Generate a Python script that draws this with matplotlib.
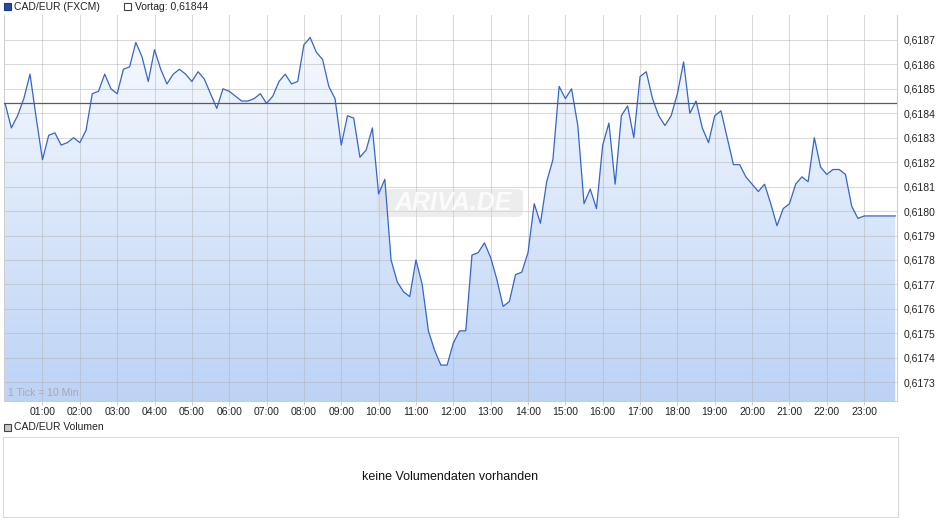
import numpy as np
import matplotlib
matplotlib.use('Agg')
import matplotlib.pyplot as plt
import matplotlib.patches as mpatches
from matplotlib.ticker import FuncFormatter

plt.rcParams['font.family'] = ['Liberation Sans', 'DejaVu Sans']

# ─── DATEN ─────────────────────────────────────────────
title = 'CAD/EUR (FXCM)'
vortag = 0.61844
# Kurs alle 10 Minuten ab 00:00
prices = [
    0.61844, 0.61834, 0.61839, 0.61846, 0.61856, 0.61838, 0.61821, 0.61831,
    0.61832, 0.61827, 0.61828, 0.61830, 0.61828, 0.61833, 0.61848, 0.61849,
    0.61856, 0.61850, 0.61848, 0.61858, 0.61859, 0.61869, 0.61863, 0.61853,
    0.61866, 0.61858, 0.61852, 0.61856, 0.61858, 0.61856, 0.61853, 0.61857,
    0.61854, 0.61848, 0.61842, 0.61850, 0.61849, 0.61847, 0.61845, 0.61845,
    0.61846, 0.61848, 0.61844, 0.61847, 0.61853, 0.61856, 0.61852, 0.61853,
    0.61868, 0.61871, 0.61865, 0.61862, 0.61851, 0.61846, 0.61827, 0.61839,
    0.61838, 0.61822, 0.61825, 0.61834, 0.61807, 0.61813, 0.61780, 0.61771,
    0.61767, 0.61765, 0.61780, 0.61770, 0.61751, 0.61743, 0.61737, 0.61737,
    0.61746, 0.61751, 0.61751, 0.61782, 0.61783, 0.61787, 0.61781, 0.61772,
    0.61761, 0.61763, 0.61774, 0.61775, 0.61783, 0.61803, 0.61795, 0.61812,
    0.61821, 0.61851, 0.61846, 0.61850, 0.61835, 0.61803, 0.61809, 0.61801,
    0.61827, 0.61836, 0.61811, 0.61839, 0.61843, 0.61830, 0.61855, 0.61857,
    0.61846, 0.61839, 0.61835, 0.61839, 0.61848, 0.61861, 0.61840, 0.61845,
    0.61834, 0.61828, 0.61839, 0.61841, 0.61830, 0.61819, 0.61819, 0.61814,
    0.61811, 0.61808, 0.61811, 0.61803, 0.61794, 0.61801, 0.61803, 0.61811,
    0.61814, 0.61812, 0.61830, 0.61818, 0.61815, 0.61817, 0.61817, 0.61815,
    0.61802, 0.61797, 0.61798, 0.61798, 0.61798, 0.61798, 0.61798, 0.61798,
]
hours = np.arange(len(prices)) * 10 / 60.0   # 1 Tick = 10 Min.
hour_ticks = list(range(1, 24))
price_ticks = [0.6173 + k * 0.0001 for k in range(15)]

# ─── LAYOUT (Pixel) ────────────────────────────────────
W, H = 940, 526
fig = plt.figure(figsize=(W / 100, H / 100), dpi=100)

def box(x0, y0, x1, y1):
    return [x0 / W, 1 - y1 / H, (x1 - x0) / W, (y1 - y0) / H]

ax = fig.add_axes(box(4, 15, 897, 401))
ymin, ymax = 0.617223, 0.618802
xmin, xmax = -0.03, 23.88
ax.set_xlim(xmin, xmax)
ax.set_ylim(ymin, ymax)

# Gradient-Füllung unter der Kurve
grad = np.linspace(0, 1, 256).reshape(-1, 1)
top_c = np.array([250, 252, 255]) / 255
bot_c = np.array([188, 211, 246]) / 255
img = (top_c + (bot_c - top_c) * grad).reshape(256, 1, 3)
im = ax.imshow(img, extent=[xmin, xmax, ymin, ymax], aspect='auto',
               origin='upper', zorder=1)
poly = ax.fill_between(hours, prices, ymin, color='none', lw=0)
im.set_clip_path(poly.get_paths()[0], transform=ax.transData)

# Gitter
ax.set_xticks(hour_ticks)
ax.set_yticks(price_ticks)
ax.grid(True, color='#b4b4b4', lw=0.75, alpha=0.5)
for ln in ax.get_xgridlines() + ax.get_ygridlines():
    ln.set_zorder(2)

# Wasserzeichen
wm = mpatches.FancyBboxPatch((377 / W, 1 - 217 / H), 146 / W, 28 / H,
                             boxstyle='round,pad=0,rounding_size=0.008',
                             transform=fig.transFigure, facecolor='#d4d4d4',
                             edgecolor='none', alpha=0.4, zorder=3)
ax.add_artist(wm)
wm.set_clip_on(False)
ax.text(453 / W, 1 - 203 / H, 'ARIVA.DE', transform=fig.transFigure,
        ha='center', va='center', fontsize=18, fontweight='bold',
        fontstyle='italic', color='white', alpha=0.8, zorder=3)

# Kurs & Vortag
ax.plot(hours, prices, color='#3366cc', lw=0.9, zorder=4)
ax.axhline(vortag, color='#5a5a5a', lw=0.9, zorder=4)

ax.text(0.004, 0.008, '1 Tick = 10 Min.', transform=ax.transAxes,
        fontsize=7.5, color='#a8a8a8', ha='left', va='bottom', zorder=5)

# Achsen
ax.yaxis.tick_right()
ax.yaxis.set_major_formatter(FuncFormatter(lambda v, p: f'{v:.4f}'.replace('.', ',')))
ax.xaxis.set_major_formatter(FuncFormatter(lambda v, p: f'{int(round(v)):02d}:00'))
ax.tick_params(axis='y', length=0, pad=5, labelsize=7.5, colors='#222222')
ax.tick_params(axis='x', length=3, pad=1, labelsize=7.5, colors='#222222',
               color='#d0d0d0')
for side in ['left', 'right', 'bottom']:
    ax.spines[side].set_color('#cccccc')
    ax.spines[side].set_linewidth(0.75)
ax.spines['top'].set_visible(False)

# Kopfzeile
def square(x, y, face, edge):
    fig.patches.append(mpatches.Rectangle((x / W, 1 - (y + 7) / H), 7 / W, 7 / H,
                                          transform=fig.transFigure,
                                          facecolor=face, edgecolor=edge, lw=0.8))

square(4, 3, '#1f4ea8', '#1a3a80')
fig.text(14 / W, 1 - 6.5 / H, title, fontsize=7.5, va='center', ha='left', color='#222222')
square(124, 3, 'white', '#444444')
fig.text(135 / W, 1 - 6.5 / H, 'Vortag: ' + f'{vortag:.5f}'.replace('.', ','),
         fontsize=7.5, va='center', ha='left', color='#222222')

# Volumen-Panel
square(4, 424, '#c8c8c8', '#444444')
fig.text(14 / W, 1 - 427.5 / H, 'CAD/EUR Volumen', fontsize=7.5, va='center',
         ha='left', color='#222222')
vax = fig.add_axes(box(3, 437, 898, 517))
vax.set_xticks([])
vax.set_yticks([])
for s in vax.spines.values():
    s.set_color('#d8d8d8')
    s.set_linewidth(0.75)
vax.text(0.5, 0.5, 'keine Volumendaten vorhanden', transform=vax.transAxes,
         ha='center', va='center', fontsize=9, color='#111111')

fig.savefig('out.png', dpi=100)
